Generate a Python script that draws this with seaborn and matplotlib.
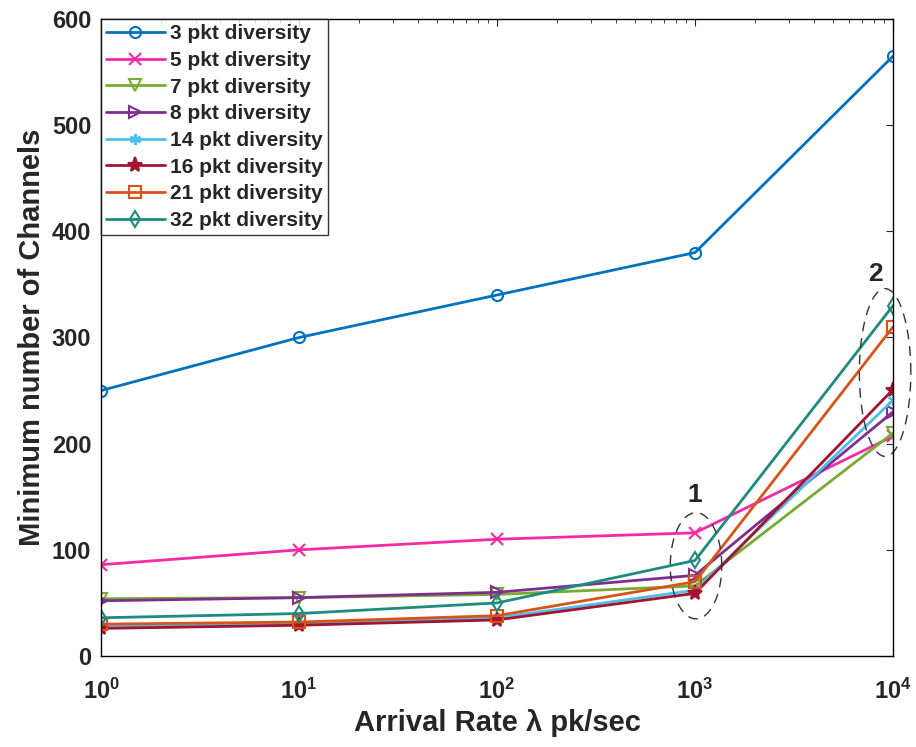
import numpy as np
import pandas as pd
import seaborn as sns
import matplotlib
matplotlib.use("Agg")
import matplotlib.pyplot as plt

# arrival rates (pk/sec)
rates = [1, 10, 100, 1000, 10000]
xtick_labels = [r"$\mathbf{10^{0}}$", r"$\mathbf{10^{1}}$", r"$\mathbf{10^{2}}$",
                r"$\mathbf{10^{3}}$", r"$\mathbf{10^{4}}$"]

labels = ["3 pkt diversity", "5 pkt diversity", "7 pkt diversity", "8 pkt diversity",
          "14 pkt diversity", "16 pkt diversity", "21 pkt diversity", "32 pkt diversity"]

div3 = [250, 300, 340, 380, 565]
div5 = [86, 100, 110, 116, 207]
div7 = [54, 55, 58, 66, 210]
div8 = [52, 55, 60, 76, 230]
div14 = [28, 30, 36, 62, 241]
div16 = [26, 29, 34, 59, 251]
div21 = [30, 32, 38, 70, 310]
div32 = [36, 40, 50, 90, 330]

colors = ["#0072BD", "#F42AA6", "#77AC30", "#7E2F8E", "#4DBEEE", "#A2142F", "#D95319", "#1F8A7E"]
markers = ["o", "x", "v", ">", (6, 2, 0), "*", "s", "d"]

series = [div3, div5, div7, div8, div14, div16, div21, div32]
df = pd.concat([pd.DataFrame({"rate": rates, "channels": s, "label": lab})
                for s, lab in zip(series, labels)])

sns.set_style("white")
plt.rcParams["font.family"] = ["Liberation Sans", "DejaVu Sans"]
plt.rcParams["font.weight"] = "bold"
plt.rcParams["mathtext.fontset"] = "custom"
plt.rcParams["mathtext.rm"] = "Liberation Sans"
plt.rcParams["mathtext.bf"] = "Liberation Sans:bold"
plt.rcParams["mathtext.it"] = "Liberation Sans:italic"

fig = plt.figure(figsize=(9.16, 7.47), dpi=100)
ax = fig.add_axes([0.1103, 0.1218, 0.8646, 0.8528])

for lab, col, mk in zip(labels, colors, markers):
    sub = df[df["label"] == lab]
    filled = mk == "*" or mk == (6, 2, 0)
    sns.lineplot(data=sub, x="rate", y="channels", ax=ax, color=col, marker=mk,
                 markersize=11 if mk == "*" else 8, linewidth=2, label=lab,
                 markerfacecolor=col if filled else "none", markeredgecolor=col,
                 markeredgewidth=1.5)

ax.set_xscale("log")
ax.set_xlim(1, 1e4)
ax.set_ylim(0, 600)
ax.set_yticks(range(0, 601, 100))
ax.set_xticks(rates)
ax.set_xticklabels(xtick_labels)
ax.tick_params(axis="both", which="both", direction="in", top=True, right=True,
               labelsize=17)
ax.tick_params(axis="x", which="major", pad=16)
ax.tick_params(axis="y", which="major", pad=7)
ax.tick_params(which="major", length=5)
ax.tick_params(which="minor", length=3)
for t in ax.get_xticklabels() + ax.get_yticklabels():
    t.set_fontweight("bold")
for sp in ax.spines.values():
    sp.set_color("black")
    sp.set_linewidth(1)

ax.set_xlabel("Arrival Rate λ pk/sec", fontsize=21, fontweight="bold", labelpad=4)
ax.set_ylabel("Minimum number of Channels", fontsize=21, fontweight="bold", labelpad=4)

# dashed ellipses marking regions 1 and 2
t = np.linspace(0, 2 * np.pi, 200)
ax.plot(10 ** (3.005 + 0.13 * np.cos(t)), 85 + 50 * np.sin(t), color="#333333",
        linewidth=1, dashes=(7, 5), clip_on=False)
ax.plot(10 ** (3.96 + 0.13 * np.cos(t)), 267 + 79 * np.sin(t), color="#333333",
        linewidth=1, dashes=(7, 5), clip_on=False)
ax.text(1000, 152, "1", fontsize=19, fontweight="bold", ha="center", va="center")
ax.text(10 ** 3.91, 360, "2", fontsize=19, fontweight="bold", ha="center", va="center")

leg = ax.legend(loc="upper left", fontsize=15, frameon=True, fancybox=False,
                edgecolor="black", borderaxespad=0, handlelength=2.8,
                labelspacing=0.37, borderpad=0.25, handletextpad=0.25)
leg.get_frame().set_linewidth(1)
for txt in leg.get_texts():
    txt.set_fontweight("bold")

fig.savefig("out.png", dpi=100)
